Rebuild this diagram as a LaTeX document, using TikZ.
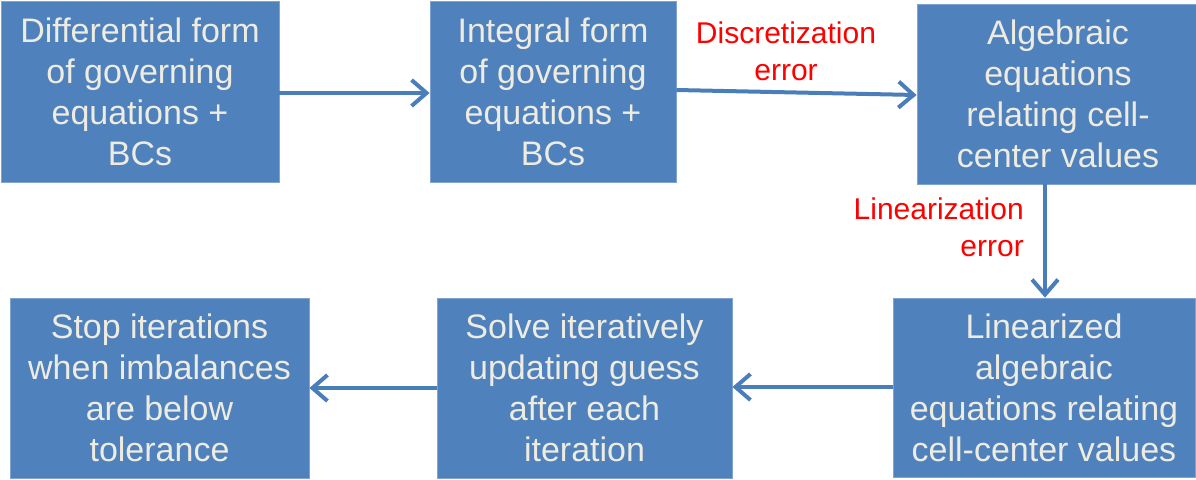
\documentclass[tikz,border=0pt]{standalone}
\usepackage{fontspec}
\setmainfont{Liberation Sans}
\usetikzlibrary{arrows.meta}
\definecolor{boxblue}{HTML}{4F81BD}
\definecolor{boxedge}{HTML}{7FA3D3}
\definecolor{arrowblue}{HTML}{4A7EBB}
\definecolor{boxtext}{HTML}{EEECE1}
\definecolor{errred}{HTML}{FF0000}
\tikzset{
  stepbox/.style={rectangle, fill=boxblue, draw=boxedge, line width=0.8pt,
    text=boxtext, align=center, inner sep=0pt,
    font=\fontsize{34pt}{41pt}\selectfont},
  flow/.style={draw=arrowblue, line width=4pt,
    -{Straight Barb[length=15pt,width=26pt,line width=4pt]}},
  errlabel/.style={text=errred, inner sep=0pt,
    font=\fontsize{30pt}{37pt}\selectfont}
}
\begin{document}
\begin{tikzpicture}[x=1pt,y=-1pt]
\useasboundingbox (0,0) rectangle (1196,479);
\node[stepbox, minimum width=278pt, minimum height=181pt] (b1) at (140,91.5)
  {Differential form\\of governing\\equations +\\BCs};
\node[stepbox, minimum width=246pt, minimum height=181pt] (b2) at (553,91.5)
  {Integral form\\of governing\\equations +\\BCs};
\node[stepbox, minimum width=282pt, minimum height=180pt] (b3) at (1058,94)
  {Algebraic\\equations\\relating cell-\\center values};
\node[stepbox, minimum width=302pt, minimum height=179pt] (b4) at (1044,387.5)
  {Linearized\\algebraic\\equations relating\\cell-center values};
\node[stepbox, minimum width=295pt, minimum height=180pt] (b5) at (584.5,388)
  {Solve iteratively\\updating guess\\after each\\iteration};
\node[stepbox, minimum width=299pt, minimum height=180pt] (b6) at (159.5,388)
  {Stop iterations\\when imbalances\\are below\\tolerance};
\coordinate (a2s) at (b2.east |- 0,90);
\coordinate (a2e) at (b3.west |- 0,95);
\draw[flow] (b1.east |- 0,93) -- (b2.west |- 0,93);
\draw[flow] (a2s) -- (a2e);
\draw[flow] (b3.south -| 1045,0) -- (b4.north -| 1045,0);
\draw[flow] (b4.west |- 0,387) -- (b5.east |- 0,387);
\draw[flow] (b5.west |- 0,388) -- (b6.east |- 0,388);
\node[errlabel, align=center] (l1) at (786,51) {Discretization\\error};
\node[errlabel, align=right, anchor=east] (l2) at (1024,227) {Linearization\\error};
\end{tikzpicture}
\end{document}
